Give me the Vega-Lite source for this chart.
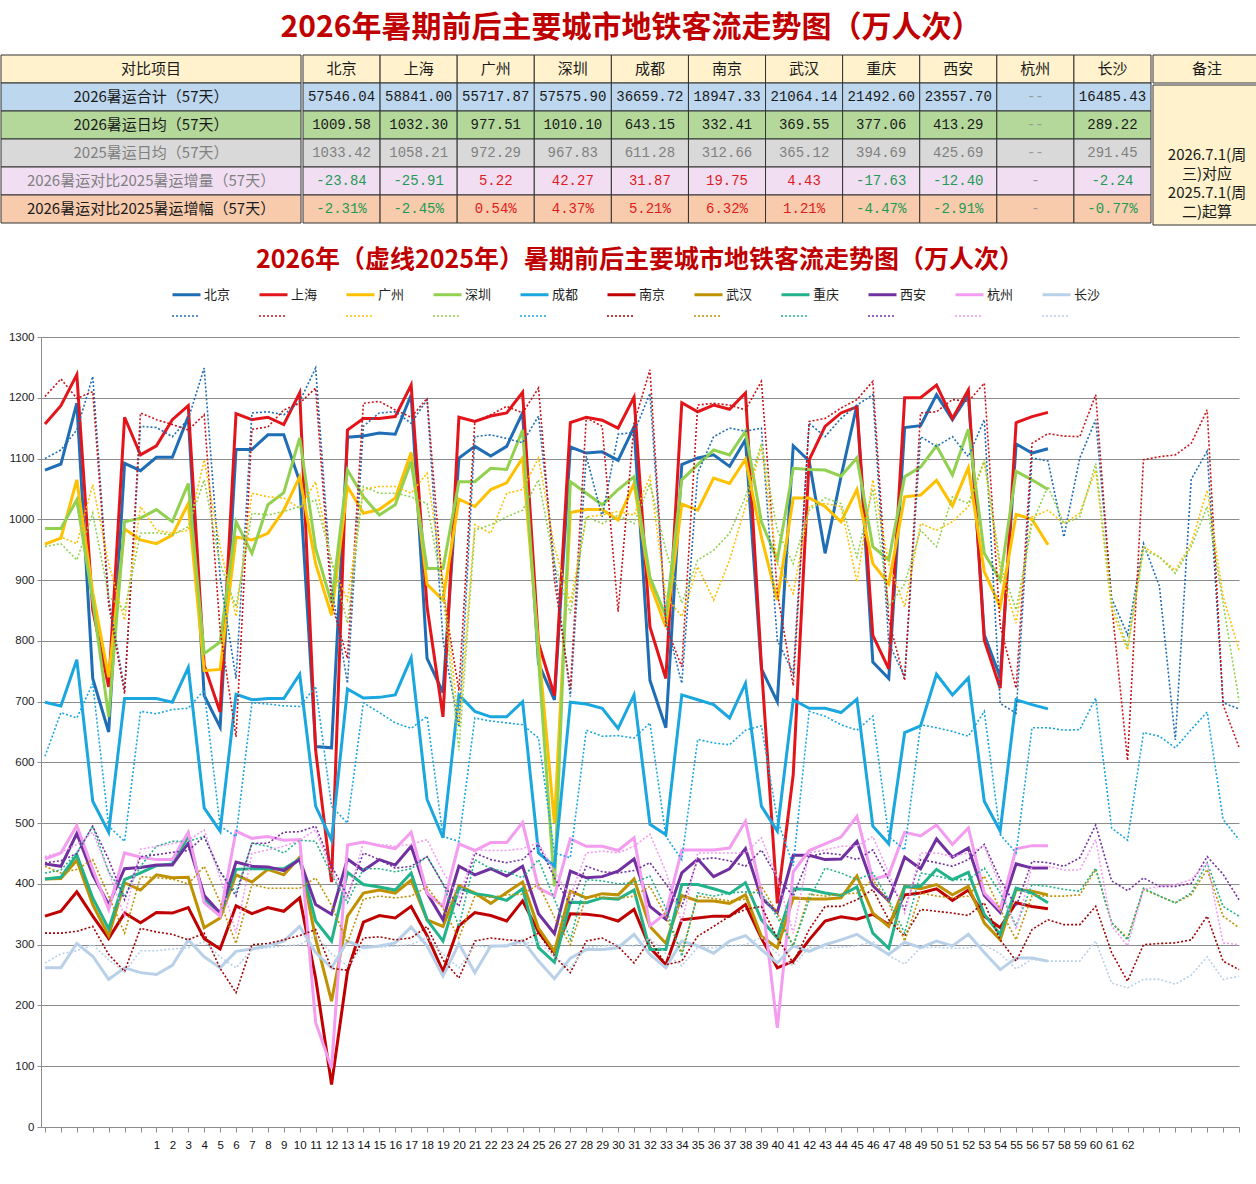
{
  "$schema": "https://vega.github.io/schema/vega-lite/v6.json",
  "background": "white",
  "padding": {"left": 0, "right": 0, "top": 12, "bottom": 0},
  "title": {"text": "2026年暑期前后主要城市地铁客流走势图（万人次）", "fontSize": 30, "fontWeight": "bold", "color": "#C00000", "anchor": "middle", "offset": 12, "font": "Noto Sans CJK SC"},
  "datasets": {
    "bj26": [{"d":-6,"v":1081},{"d":-5,"v":1091},{"d":-4,"v":1191},{"d":-3,"v":738},{"d":-2,"v":650},{"d":-1,"v":1092},{"d":0,"v":1080},{"d":1,"v":1102},{"d":2,"v":1102},{"d":3,"v":1169},{"d":4,"v":710},{"d":5,"v":658},{"d":6,"v":1115},{"d":7,"v":1115},{"d":8,"v":1139},{"d":9,"v":1139},{"d":10,"v":1062},{"d":11,"v":626},{"d":12,"v":624},{"d":13,"v":1135},{"d":14,"v":1137},{"d":15,"v":1142},{"d":16,"v":1140},{"d":17,"v":1205},{"d":18,"v":771},{"d":19,"v":715},{"d":20,"v":1101},{"d":21,"v":1120},{"d":22,"v":1104},{"d":23,"v":1120},{"d":24,"v":1175},{"d":25,"v":763},{"d":26,"v":703},{"d":27,"v":1119},{"d":28,"v":1109},{"d":29,"v":1111},{"d":30,"v":1097},{"d":31,"v":1152},{"d":32,"v":735},{"d":33,"v":657},{"d":34,"v":1090},{"d":35,"v":1101},{"d":36,"v":1106},{"d":37,"v":1087},{"d":38,"v":1131},{"d":39,"v":754},{"d":40,"v":700},{"d":41,"v":1121},{"d":42,"v":1096},{"d":43,"v":944},{"d":44,"v":1070},{"d":45,"v":1188},{"d":46,"v":765},{"d":47,"v":738},{"d":48,"v":1151},{"d":49,"v":1154},{"d":50,"v":1205},{"d":51,"v":1164},{"d":52,"v":1205},{"d":53,"v":810},{"d":54,"v":740},{"d":55,"v":1124},{"d":56,"v":1109},{"d":57,"v":1116}],
    "sh26": [{"d":-6,"v":1157},{"d":-5,"v":1187},{"d":-4,"v":1238},{"d":-3,"v":851},{"d":-2,"v":724},{"d":-1,"v":1168},{"d":0,"v":1106},{"d":1,"v":1121},{"d":2,"v":1164},{"d":3,"v":1187},{"d":4,"v":760},{"d":5,"v":683},{"d":6,"v":1174},{"d":7,"v":1164},{"d":8,"v":1168},{"d":9,"v":1156},{"d":10,"v":1208},{"d":11,"v":620},{"d":12,"v":403},{"d":13,"v":1147},{"d":14,"v":1166},{"d":15,"v":1166},{"d":16,"v":1169},{"d":17,"v":1221},{"d":18,"v":856},{"d":19,"v":675},{"d":20,"v":1168},{"d":21,"v":1161},{"d":22,"v":1170},{"d":23,"v":1175},{"d":24,"v":1209},{"d":25,"v":796},{"d":26,"v":710},{"d":27,"v":1159},{"d":28,"v":1168},{"d":29,"v":1163},{"d":30,"v":1150},{"d":31,"v":1201},{"d":32,"v":823},{"d":33,"v":738},{"d":34,"v":1192},{"d":35,"v":1177},{"d":36,"v":1188},{"d":37,"v":1181},{"d":38,"v":1208},{"d":39,"v":760},{"d":40,"v":368},{"d":41,"v":580},{"d":42,"v":1098},{"d":43,"v":1153},{"d":44,"v":1175},{"d":45,"v":1185},{"d":46,"v":809},{"d":47,"v":754},{"d":48,"v":1200},{"d":49,"v":1200},{"d":50,"v":1221},{"d":51,"v":1166},{"d":52,"v":1213},{"d":53,"v":801},{"d":54,"v":722},{"d":55,"v":1159},{"d":56,"v":1169},{"d":57,"v":1176}],
    "gz26": [{"d":-6,"v":959},{"d":-5,"v":969},{"d":-4,"v":1065},{"d":-3,"v":880},{"d":-2,"v":740},{"d":-1,"v":984},{"d":0,"v":966},{"d":1,"v":960},{"d":2,"v":974},{"d":3,"v":1026},{"d":4,"v":751},{"d":5,"v":753},{"d":6,"v":971},{"d":7,"v":966},{"d":8,"v":977},{"d":9,"v":1015},{"d":10,"v":1070},{"d":11,"v":927},{"d":12,"v":842},{"d":13,"v":1054},{"d":14,"v":1010},{"d":15,"v":1016},{"d":16,"v":1035},{"d":17,"v":1110},{"d":18,"v":893},{"d":19,"v":867},{"d":20,"v":1033},{"d":21,"v":1021},{"d":22,"v":1049},{"d":23,"v":1060},{"d":24,"v":1101},{"d":25,"v":790},{"d":26,"v":500},{"d":27,"v":1011},{"d":28,"v":1016},{"d":29,"v":1016},{"d":30,"v":999},{"d":31,"v":1059},{"d":32,"v":894},{"d":33,"v":823},{"d":34,"v":1025},{"d":35,"v":1015},{"d":36,"v":1068},{"d":37,"v":1059},{"d":38,"v":1099},{"d":39,"v":971},{"d":40,"v":867},{"d":41,"v":1035},{"d":42,"v":1035},{"d":43,"v":1021},{"d":44,"v":996},{"d":45,"v":1049},{"d":46,"v":927},{"d":47,"v":894},{"d":48,"v":1037},{"d":49,"v":1040},{"d":50,"v":1064},{"d":51,"v":1022},{"d":52,"v":1085},{"d":53,"v":914},{"d":54,"v":856},{"d":55,"v":1008},{"d":56,"v":1000},{"d":57,"v":958}],
    "sz26": [{"d":-6,"v":985},{"d":-5,"v":985},{"d":-4,"v":1032},{"d":-3,"v":867},{"d":-2,"v":675},{"d":-1,"v":996},{"d":0,"v":1002},{"d":1,"v":1016},{"d":2,"v":996},{"d":3,"v":1059},{"d":4,"v":779},{"d":5,"v":798},{"d":6,"v":996},{"d":7,"v":944},{"d":8,"v":1024},{"d":9,"v":1044},{"d":10,"v":1134},{"d":11,"v":952},{"d":12,"v":862},{"d":13,"v":1081},{"d":14,"v":1037},{"d":15,"v":1007},{"d":16,"v":1024},{"d":17,"v":1095},{"d":18,"v":919},{"d":19,"v":919},{"d":20,"v":1062},{"d":21,"v":1062},{"d":22,"v":1084},{"d":23,"v":1082},{"d":24,"v":1147},{"d":25,"v":770},{"d":26,"v":396},{"d":27,"v":1062},{"d":28,"v":1043},{"d":29,"v":1024},{"d":30,"v":1049},{"d":31,"v":1070},{"d":32,"v":905},{"d":33,"v":840},{"d":34,"v":1065},{"d":35,"v":1090},{"d":36,"v":1114},{"d":37,"v":1106},{"d":38,"v":1145},{"d":39,"v":996},{"d":40,"v":933},{"d":41,"v":1084},{"d":42,"v":1082},{"d":43,"v":1081},{"d":44,"v":1071},{"d":45,"v":1101},{"d":46,"v":955},{"d":47,"v":933},{"d":48,"v":1070},{"d":49,"v":1086},{"d":50,"v":1121},{"d":51,"v":1073},{"d":52,"v":1148},{"d":53,"v":944},{"d":54,"v":900},{"d":55,"v":1079},{"d":56,"v":1065},{"d":57,"v":1049}],
    "cd26": [{"d":-6,"v":699},{"d":-5,"v":693},{"d":-4,"v":769},{"d":-3,"v":536},{"d":-2,"v":485},{"d":-1,"v":705},{"d":0,"v":705},{"d":1,"v":705},{"d":2,"v":699},{"d":3,"v":756},{"d":4,"v":525},{"d":5,"v":487},{"d":6,"v":712},{"d":7,"v":703},{"d":8,"v":705},{"d":9,"v":705},{"d":10,"v":745},{"d":11,"v":528},{"d":12,"v":472},{"d":13,"v":721},{"d":14,"v":706},{"d":15,"v":707},{"d":16,"v":711},{"d":17,"v":772},{"d":18,"v":539},{"d":19,"v":476},{"d":20,"v":711},{"d":21,"v":684},{"d":22,"v":675},{"d":23,"v":675},{"d":24,"v":700},{"d":25,"v":451},{"d":26,"v":429},{"d":27,"v":699},{"d":28,"v":696},{"d":29,"v":689},{"d":30,"v":656},{"d":31,"v":711},{"d":32,"v":498},{"d":33,"v":481},{"d":34,"v":711},{"d":35,"v":703},{"d":36,"v":695},{"d":37,"v":673},{"d":38,"v":730},{"d":39,"v":528},{"d":40,"v":487},{"d":41,"v":703},{"d":42,"v":689},{"d":43,"v":689},{"d":44,"v":682},{"d":45,"v":704},{"d":46,"v":495},{"d":47,"v":466},{"d":48,"v":649},{"d":49,"v":660},{"d":50,"v":745},{"d":51,"v":711},{"d":52,"v":739},{"d":53,"v":536},{"d":54,"v":487},{"d":55,"v":703},{"d":56,"v":695},{"d":57,"v":688}],
    "nj26": [{"d":-6,"v":347},{"d":-5,"v":355},{"d":-4,"v":387},{"d":-3,"v":347},{"d":-2,"v":310},{"d":-1,"v":352},{"d":0,"v":336},{"d":1,"v":353},{"d":2,"v":352},{"d":3,"v":361},{"d":4,"v":310},{"d":5,"v":293},{"d":6,"v":364},{"d":7,"v":351},{"d":8,"v":361},{"d":9,"v":355},{"d":10,"v":377},{"d":11,"v":245},{"d":12,"v":70},{"d":13,"v":256},{"d":14,"v":337},{"d":15,"v":348},{"d":16,"v":344},{"d":17,"v":363},{"d":18,"v":315},{"d":19,"v":256},{"d":20,"v":331},{"d":21,"v":353},{"d":22,"v":348},{"d":23,"v":339},{"d":24,"v":372},{"d":25,"v":321},{"d":26,"v":287},{"d":27,"v":351},{"d":28,"v":350},{"d":29,"v":347},{"d":30,"v":339},{"d":31,"v":358},{"d":32,"v":295},{"d":33,"v":267},{"d":34,"v":341},{"d":35,"v":344},{"d":36,"v":347},{"d":37,"v":347},{"d":38,"v":366},{"d":39,"v":311},{"d":40,"v":262},{"d":41,"v":273},{"d":42,"v":308},{"d":43,"v":339},{"d":44,"v":346},{"d":45,"v":342},{"d":46,"v":350},{"d":47,"v":333},{"d":48,"v":382},{"d":49,"v":385},{"d":50,"v":392},{"d":51,"v":373},{"d":52,"v":390},{"d":53,"v":347},{"d":54,"v":328},{"d":55,"v":369},{"d":56,"v":363},{"d":57,"v":359}],
    "wh26": [{"d":-6,"v":408},{"d":-5,"v":409},{"d":-4,"v":439},{"d":-3,"v":366},{"d":-2,"v":315},{"d":-1,"v":402},{"d":0,"v":390},{"d":1,"v":415},{"d":2,"v":410},{"d":3,"v":411},{"d":4,"v":328},{"d":5,"v":344},{"d":6,"v":415},{"d":7,"v":403},{"d":8,"v":424},{"d":9,"v":415},{"d":10,"v":444},{"d":11,"v":310},{"d":12,"v":207},{"d":13,"v":347},{"d":14,"v":385},{"d":15,"v":390},{"d":16,"v":385},{"d":17,"v":406},{"d":18,"v":341},{"d":19,"v":330},{"d":20,"v":397},{"d":21,"v":385},{"d":22,"v":368},{"d":23,"v":386},{"d":24,"v":403},{"d":25,"v":327},{"d":26,"v":289},{"d":27,"v":388},{"d":28,"v":377},{"d":29,"v":384},{"d":30,"v":382},{"d":31,"v":408},{"d":32,"v":330},{"d":33,"v":302},{"d":34,"v":381},{"d":35,"v":372},{"d":36,"v":372},{"d":37,"v":368},{"d":38,"v":382},{"d":39,"v":314},{"d":40,"v":295},{"d":41,"v":377},{"d":42,"v":375},{"d":43,"v":375},{"d":44,"v":377},{"d":45,"v":413},{"d":46,"v":352},{"d":47,"v":330},{"d":48,"v":396},{"d":49,"v":392},{"d":50,"v":399},{"d":51,"v":382},{"d":52,"v":396},{"d":53,"v":336},{"d":54,"v":308},{"d":55,"v":391},{"d":56,"v":388},{"d":57,"v":382}],
    "cq26": [{"d":-6,"v":408},{"d":-5,"v":411},{"d":-4,"v":448},{"d":-3,"v":377},{"d":-2,"v":326},{"d":-1,"v":407},{"d":0,"v":418},{"d":1,"v":430},{"d":2,"v":433},{"d":3,"v":478},{"d":4,"v":374},{"d":5,"v":350},{"d":6,"v":424},{"d":7,"v":425},{"d":8,"v":425},{"d":9,"v":425},{"d":10,"v":441},{"d":11,"v":339},{"d":12,"v":306},{"d":13,"v":419},{"d":14,"v":399},{"d":15,"v":395},{"d":16,"v":390},{"d":17,"v":418},{"d":18,"v":341},{"d":19,"v":306},{"d":20,"v":393},{"d":21,"v":384},{"d":22,"v":380},{"d":23,"v":373},{"d":24,"v":392},{"d":25,"v":295},{"d":26,"v":271},{"d":27,"v":370},{"d":28,"v":369},{"d":29,"v":377},{"d":30,"v":375},{"d":31,"v":390},{"d":32,"v":292},{"d":33,"v":292},{"d":34,"v":399},{"d":35,"v":399},{"d":36,"v":392},{"d":37,"v":384},{"d":38,"v":402},{"d":39,"v":341},{"d":40,"v":311},{"d":41,"v":392},{"d":42,"v":391},{"d":43,"v":385},{"d":44,"v":381},{"d":45,"v":395},{"d":46,"v":319},{"d":47,"v":294},{"d":48,"v":395},{"d":49,"v":396},{"d":50,"v":424},{"d":51,"v":407},{"d":52,"v":419},{"d":53,"v":350},{"d":54,"v":317},{"d":55,"v":393},{"d":56,"v":385},{"d":57,"v":369}],
    "xa26": [{"d":-6,"v":433},{"d":-5,"v":429},{"d":-4,"v":483},{"d":-3,"v":415},{"d":-2,"v":366},{"d":-1,"v":425},{"d":0,"v":427},{"d":1,"v":431},{"d":2,"v":431},{"d":3,"v":467},{"d":4,"v":381},{"d":5,"v":352},{"d":6,"v":436},{"d":7,"v":429},{"d":8,"v":428},{"d":9,"v":422},{"d":10,"v":440},{"d":11,"v":366},{"d":12,"v":350},{"d":13,"v":441},{"d":14,"v":422},{"d":15,"v":440},{"d":16,"v":431},{"d":17,"v":462},{"d":18,"v":385},{"d":19,"v":341},{"d":20,"v":429},{"d":21,"v":415},{"d":22,"v":425},{"d":23,"v":413},{"d":24,"v":429},{"d":25,"v":351},{"d":26,"v":318},{"d":27,"v":421},{"d":28,"v":410},{"d":29,"v":412},{"d":30,"v":421},{"d":31,"v":441},{"d":32,"v":363},{"d":33,"v":342},{"d":34,"v":418},{"d":35,"v":441},{"d":36,"v":412},{"d":37,"v":425},{"d":38,"v":458},{"d":39,"v":377},{"d":40,"v":353},{"d":41,"v":447},{"d":42,"v":447},{"d":43,"v":440},{"d":44,"v":441},{"d":45,"v":470},{"d":46,"v":397},{"d":47,"v":372},{"d":48,"v":444},{"d":49,"v":425},{"d":50,"v":474},{"d":51,"v":444},{"d":52,"v":459},{"d":53,"v":381},{"d":54,"v":353},{"d":55,"v":433},{"d":56,"v":426},{"d":57,"v":426}],
    "hz26": [{"d":-6,"v":441},{"d":-5,"v":451},{"d":-4,"v":496},{"d":-3,"v":424},{"d":-2,"v":358},{"d":-1,"v":451},{"d":0,"v":444},{"d":1,"v":440},{"d":2,"v":440},{"d":3,"v":485},{"d":4,"v":369},{"d":5,"v":347},{"d":6,"v":487},{"d":7,"v":475},{"d":8,"v":478},{"d":9,"v":472},{"d":10,"v":473},{"d":11,"v":172},{"d":12,"v":97},{"d":13,"v":464},{"d":14,"v":469},{"d":15,"v":463},{"d":16,"v":458},{"d":17,"v":485},{"d":18,"v":385},{"d":19,"v":363},{"d":20,"v":466},{"d":21,"v":455},{"d":22,"v":468},{"d":23,"v":468},{"d":24,"v":501},{"d":25,"v":393},{"d":26,"v":380},{"d":27,"v":474},{"d":28,"v":462},{"d":29,"v":462},{"d":30,"v":455},{"d":31,"v":476},{"d":32,"v":331},{"d":33,"v":352},{"d":34,"v":456},{"d":35,"v":456},{"d":36,"v":456},{"d":37,"v":459},{"d":38,"v":503},{"d":39,"v":385},{"d":40,"v":163},{"d":41,"v":420},{"d":42,"v":455},{"d":43,"v":466},{"d":44,"v":477},{"d":45,"v":511},{"d":46,"v":407},{"d":47,"v":415},{"d":48,"v":485},{"d":49,"v":479},{"d":50,"v":497},{"d":51,"v":465},{"d":52,"v":492},{"d":53,"v":385},{"d":54,"v":358},{"d":55,"v":458},{"d":56,"v":463},{"d":57,"v":463}],
    "cs26": [{"d":-6,"v":262},{"d":-5,"v":262},{"d":-4,"v":302},{"d":-3,"v":281},{"d":-2,"v":243},{"d":-1,"v":262},{"d":0,"v":254},{"d":1,"v":251},{"d":2,"v":266},{"d":3,"v":308},{"d":4,"v":280},{"d":5,"v":262},{"d":6,"v":289},{"d":7,"v":293},{"d":8,"v":298},{"d":9,"v":306},{"d":10,"v":330},{"d":11,"v":287},{"d":12,"v":262},{"d":13,"v":306},{"d":14,"v":295},{"d":15,"v":298},{"d":16,"v":303},{"d":17,"v":329},{"d":18,"v":298},{"d":19,"v":248},{"d":20,"v":302},{"d":21,"v":254},{"d":22,"v":298},{"d":23,"v":298},{"d":24,"v":307},{"d":25,"v":273},{"d":26,"v":244},{"d":27,"v":278},{"d":28,"v":292},{"d":29,"v":292},{"d":30,"v":295},{"d":31,"v":317},{"d":32,"v":284},{"d":33,"v":262},{"d":34,"v":306},{"d":35,"v":298},{"d":36,"v":286},{"d":37,"v":306},{"d":38,"v":315},{"d":39,"v":292},{"d":40,"v":270},{"d":41,"v":298},{"d":42,"v":289},{"d":43,"v":300},{"d":44,"v":308},{"d":45,"v":317},{"d":46,"v":300},{"d":47,"v":284},{"d":48,"v":304},{"d":49,"v":295},{"d":50,"v":306},{"d":51,"v":298},{"d":52,"v":317},{"d":53,"v":287},{"d":54,"v":259},{"d":55,"v":278},{"d":56,"v":278},{"d":57,"v":273}],
    "bj25": [{"d":-6,"v":1100},{"d":-5,"v":1114},{"d":-4,"v":1147},{"d":-3,"v":1235},{"d":-2,"v":870},{"d":-1,"v":720},{"d":0,"v":1153},{"d":1,"v":1151},{"d":2,"v":1136},{"d":3,"v":1165},{"d":4,"v":1249},{"d":5,"v":905},{"d":6,"v":738},{"d":7,"v":1175},{"d":8,"v":1177},{"d":9,"v":1172},{"d":10,"v":1194},{"d":11,"v":1249},{"d":12,"v":889},{"d":13,"v":730},{"d":14,"v":1153},{"d":15,"v":1175},{"d":16,"v":1177},{"d":17,"v":1158},{"d":18,"v":1197},{"d":19,"v":801},{"d":20,"v":658},{"d":21,"v":1136},{"d":22,"v":1139},{"d":23,"v":1133},{"d":24,"v":1126},{"d":25,"v":1170},{"d":26,"v":927},{"d":27,"v":708},{"d":28,"v":1104},{"d":29,"v":1004},{"d":30,"v":1140},{"d":31,"v":1143},{"d":32,"v":1207},{"d":33,"v":833},{"d":34,"v":730},{"d":35,"v":1076},{"d":36,"v":1136},{"d":37,"v":1150},{"d":38,"v":1145},{"d":39,"v":1150},{"d":40,"v":801},{"d":41,"v":747},{"d":42,"v":1158},{"d":43,"v":1136},{"d":44,"v":1166},{"d":45,"v":1188},{"d":46,"v":1205},{"d":47,"v":796},{"d":48,"v":741},{"d":49,"v":1136},{"d":50,"v":1120},{"d":51,"v":1136},{"d":52,"v":1103},{"d":53,"v":1164},{"d":54,"v":697},{"d":55,"v":681},{"d":56,"v":1101},{"d":57,"v":1096},{"d":58,"v":971},{"d":59,"v":1101},{"d":60,"v":1164},{"d":61,"v":870},{"d":62,"v":810},{"d":63,"v":960},{"d":64,"v":890},{"d":65,"v":637},{"d":66,"v":1066},{"d":67,"v":1112},{"d":68,"v":698},{"d":69,"v":688}],
    "sh25": [{"d":-6,"v":1202},{"d":-5,"v":1231},{"d":-4,"v":1199},{"d":-3,"v":1210},{"d":-2,"v":860},{"d":-1,"v":713},{"d":0,"v":1175},{"d":1,"v":1164},{"d":2,"v":1156},{"d":3,"v":1147},{"d":4,"v":1172},{"d":5,"v":818},{"d":6,"v":642},{"d":7,"v":1148},{"d":8,"v":1152},{"d":9,"v":1180},{"d":10,"v":1191},{"d":11,"v":1216},{"d":12,"v":862},{"d":13,"v":771},{"d":14,"v":1191},{"d":15,"v":1194},{"d":16,"v":1180},{"d":17,"v":1168},{"d":18,"v":1199},{"d":19,"v":880},{"d":20,"v":718},{"d":21,"v":1161},{"d":22,"v":1172},{"d":23,"v":1186},{"d":24,"v":1175},{"d":25,"v":1216},{"d":26,"v":900},{"d":27,"v":721},{"d":28,"v":1167},{"d":29,"v":1153},{"d":30,"v":848},{"d":31,"v":1158},{"d":32,"v":1246},{"d":33,"v":825},{"d":34,"v":757},{"d":35,"v":1188},{"d":36,"v":1191},{"d":37,"v":1188},{"d":38,"v":1180},{"d":39,"v":1227},{"d":40,"v":880},{"d":41,"v":726},{"d":42,"v":1161},{"d":43,"v":1166},{"d":44,"v":1183},{"d":45,"v":1197},{"d":46,"v":1227},{"d":47,"v":834},{"d":48,"v":735},{"d":49,"v":1175},{"d":50,"v":1177},{"d":51,"v":1197},{"d":52,"v":1194},{"d":53,"v":1224},{"d":54,"v":825},{"d":55,"v":722},{"d":56,"v":1125},{"d":57,"v":1141},{"d":58,"v":1137},{"d":59,"v":1136},{"d":60,"v":1205},{"d":61,"v":860},{"d":62,"v":603},{"d":63,"v":1098},{"d":64,"v":1103},{"d":65,"v":1106},{"d":66,"v":1125},{"d":67,"v":1180},{"d":68,"v":695},{"d":69,"v":625}],
    "gz25": [{"d":-6,"v":958},{"d":-5,"v":971},{"d":-4,"v":960},{"d":-3,"v":1057},{"d":-2,"v":927},{"d":-1,"v":834},{"d":0,"v":1021},{"d":1,"v":982},{"d":2,"v":977},{"d":3,"v":982},{"d":4,"v":1098},{"d":5,"v":955},{"d":6,"v":840},{"d":7,"v":1043},{"d":8,"v":1037},{"d":9,"v":1035},{"d":10,"v":1018},{"d":11,"v":1062},{"d":12,"v":927},{"d":13,"v":867},{"d":14,"v":1049},{"d":15,"v":1054},{"d":16,"v":1054},{"d":17,"v":1043},{"d":18,"v":1076},{"d":19,"v":900},{"d":20,"v":660},{"d":21,"v":991},{"d":22,"v":977},{"d":23,"v":1043},{"d":24,"v":1049},{"d":25,"v":1101},{"d":26,"v":955},{"d":27,"v":862},{"d":28,"v":1004},{"d":29,"v":1007},{"d":30,"v":1013},{"d":31,"v":1007},{"d":32,"v":1070},{"d":33,"v":873},{"d":34,"v":840},{"d":35,"v":922},{"d":36,"v":867},{"d":37,"v":933},{"d":38,"v":1021},{"d":39,"v":1120},{"d":40,"v":927},{"d":41,"v":878},{"d":42,"v":1021},{"d":43,"v":1026},{"d":44,"v":1021},{"d":45,"v":897},{"d":46,"v":1065},{"d":47,"v":927},{"d":48,"v":856},{"d":49,"v":993},{"d":50,"v":982},{"d":51,"v":996},{"d":52,"v":1021},{"d":53,"v":1095},{"d":54,"v":916},{"d":55,"v":829},{"d":56,"v":1004},{"d":57,"v":1015},{"d":58,"v":993},{"d":59,"v":1010},{"d":60,"v":1081},{"d":61,"v":851},{"d":62,"v":785},{"d":63,"v":955},{"d":64,"v":938},{"d":65,"v":916},{"d":66,"v":960},{"d":67,"v":1048},{"d":68,"v":873},{"d":69,"v":785}],
    "sz25": [{"d":-6,"v":955},{"d":-5,"v":960},{"d":-4,"v":933},{"d":-3,"v":1010},{"d":-2,"v":873},{"d":-1,"v":851},{"d":0,"v":977},{"d":1,"v":978},{"d":2,"v":974},{"d":3,"v":988},{"d":4,"v":1065},{"d":5,"v":927},{"d":6,"v":856},{"d":7,"v":1010},{"d":8,"v":1007},{"d":9,"v":1013},{"d":10,"v":1021},{"d":11,"v":1032},{"d":12,"v":933},{"d":13,"v":829},{"d":14,"v":1054},{"d":15,"v":1043},{"d":16,"v":1043},{"d":17,"v":1037},{"d":18,"v":1026},{"d":19,"v":880},{"d":20,"v":620},{"d":21,"v":982},{"d":22,"v":991},{"d":23,"v":1004},{"d":24,"v":1015},{"d":25,"v":1065},{"d":26,"v":927},{"d":27,"v":845},{"d":28,"v":1004},{"d":29,"v":993},{"d":30,"v":1007},{"d":31,"v":993},{"d":32,"v":1059},{"d":33,"v":949},{"d":34,"v":862},{"d":35,"v":933},{"d":36,"v":949},{"d":37,"v":977},{"d":38,"v":1037},{"d":39,"v":1125},{"d":40,"v":982},{"d":41,"v":927},{"d":42,"v":1015},{"d":43,"v":1035},{"d":44,"v":1026},{"d":45,"v":938},{"d":46,"v":1050},{"d":47,"v":856},{"d":48,"v":894},{"d":49,"v":982},{"d":50,"v":955},{"d":51,"v":1037},{"d":52,"v":1026},{"d":53,"v":1098},{"d":54,"v":927},{"d":55,"v":851},{"d":56,"v":993},{"d":57,"v":1054},{"d":58,"v":993},{"d":59,"v":1004},{"d":60,"v":1092},{"d":61,"v":862},{"d":62,"v":790},{"d":63,"v":949},{"d":64,"v":938},{"d":65,"v":911},{"d":66,"v":955},{"d":67,"v":1021},{"d":68,"v":862},{"d":69,"v":702}],
    "cd25": [{"d":-6,"v":610},{"d":-5,"v":682},{"d":-4,"v":673},{"d":-3,"v":730},{"d":-2,"v":495},{"d":-1,"v":470},{"d":0,"v":684},{"d":1,"v":680},{"d":2,"v":687},{"d":3,"v":689},{"d":4,"v":719},{"d":5,"v":495},{"d":6,"v":478},{"d":7,"v":698},{"d":8,"v":696},{"d":9,"v":693},{"d":10,"v":692},{"d":11,"v":725},{"d":12,"v":528},{"d":13,"v":500},{"d":14,"v":698},{"d":15,"v":682},{"d":16,"v":665},{"d":17,"v":656},{"d":18,"v":676},{"d":19,"v":478},{"d":20,"v":470},{"d":21,"v":673},{"d":22,"v":668},{"d":23,"v":665},{"d":24,"v":662},{"d":25,"v":640},{"d":26,"v":451},{"d":27,"v":443},{"d":28,"v":653},{"d":29,"v":643},{"d":30,"v":644},{"d":31,"v":640},{"d":32,"v":665},{"d":33,"v":478},{"d":34,"v":440},{"d":35,"v":638},{"d":36,"v":632},{"d":37,"v":629},{"d":38,"v":653},{"d":39,"v":660},{"d":40,"v":506},{"d":41,"v":430},{"d":42,"v":684},{"d":43,"v":676},{"d":44,"v":662},{"d":45,"v":653},{"d":46,"v":676},{"d":47,"v":478},{"d":48,"v":456},{"d":49,"v":662},{"d":50,"v":657},{"d":51,"v":651},{"d":52,"v":643},{"d":53,"v":684},{"d":54,"v":481},{"d":55,"v":451},{"d":56,"v":657},{"d":57,"v":657},{"d":58,"v":653},{"d":59,"v":654},{"d":60,"v":706},{"d":61,"v":492},{"d":62,"v":472},{"d":63,"v":649},{"d":64,"v":643},{"d":65,"v":624},{"d":66,"v":654},{"d":67,"v":683},{"d":68,"v":506},{"d":69,"v":473}],
    "nj25": [{"d":-6,"v":319},{"d":-5,"v":319},{"d":-4,"v":322},{"d":-3,"v":330},{"d":-2,"v":284},{"d":-1,"v":256},{"d":0,"v":327},{"d":1,"v":321},{"d":2,"v":317},{"d":3,"v":308},{"d":4,"v":319},{"d":5,"v":261},{"d":6,"v":221},{"d":7,"v":300},{"d":8,"v":302},{"d":9,"v":308},{"d":10,"v":315},{"d":11,"v":325},{"d":12,"v":261},{"d":13,"v":258},{"d":14,"v":311},{"d":15,"v":313},{"d":16,"v":308},{"d":17,"v":311},{"d":18,"v":330},{"d":19,"v":275},{"d":20,"v":245},{"d":21,"v":306},{"d":22,"v":311},{"d":23,"v":308},{"d":24,"v":306},{"d":25,"v":319},{"d":26,"v":281},{"d":27,"v":254},{"d":28,"v":306},{"d":29,"v":311},{"d":30,"v":297},{"d":31,"v":270},{"d":32,"v":308},{"d":33,"v":267},{"d":34,"v":273},{"d":35,"v":314},{"d":36,"v":330},{"d":37,"v":347},{"d":38,"v":358},{"d":39,"v":363},{"d":40,"v":311},{"d":41,"v":270},{"d":42,"v":325},{"d":43,"v":363},{"d":44,"v":363},{"d":45,"v":374},{"d":46,"v":391},{"d":47,"v":341},{"d":48,"v":314},{"d":49,"v":358},{"d":50,"v":355},{"d":51,"v":352},{"d":52,"v":348},{"d":53,"v":369},{"d":54,"v":308},{"d":55,"v":273},{"d":56,"v":325},{"d":57,"v":341},{"d":58,"v":333},{"d":59,"v":333},{"d":60,"v":363},{"d":61,"v":287},{"d":62,"v":240},{"d":63,"v":300},{"d":64,"v":302},{"d":65,"v":303},{"d":66,"v":308},{"d":67,"v":347},{"d":68,"v":273},{"d":69,"v":259}],
    "wh25": [{"d":-6,"v":429},{"d":-5,"v":418},{"d":-4,"v":424},{"d":-3,"v":440},{"d":-2,"v":380},{"d":-1,"v":319},{"d":0,"v":412},{"d":1,"v":410},{"d":2,"v":408},{"d":3,"v":400},{"d":4,"v":429},{"d":5,"v":370},{"d":6,"v":302},{"d":7,"v":399},{"d":8,"v":393},{"d":9,"v":393},{"d":10,"v":393},{"d":11,"v":410},{"d":12,"v":365},{"d":13,"v":303},{"d":14,"v":375},{"d":15,"v":380},{"d":16,"v":377},{"d":17,"v":380},{"d":18,"v":395},{"d":19,"v":360},{"d":20,"v":311},{"d":21,"v":380},{"d":22,"v":378},{"d":23,"v":382},{"d":24,"v":383},{"d":25,"v":399},{"d":26,"v":345},{"d":27,"v":300},{"d":28,"v":379},{"d":29,"v":378},{"d":30,"v":376},{"d":31,"v":380},{"d":32,"v":396},{"d":33,"v":347},{"d":34,"v":287},{"d":35,"v":380},{"d":36,"v":376},{"d":37,"v":372},{"d":38,"v":375},{"d":39,"v":396},{"d":40,"v":352},{"d":41,"v":298},{"d":42,"v":383},{"d":43,"v":380},{"d":44,"v":383},{"d":45,"v":385},{"d":46,"v":407},{"d":47,"v":369},{"d":48,"v":306},{"d":49,"v":385},{"d":50,"v":380},{"d":51,"v":377},{"d":52,"v":380},{"d":53,"v":413},{"d":54,"v":358},{"d":55,"v":308},{"d":56,"v":381},{"d":57,"v":380},{"d":58,"v":380},{"d":59,"v":382},{"d":60,"v":424},{"d":61,"v":336},{"d":62,"v":311},{"d":63,"v":391},{"d":64,"v":380},{"d":65,"v":369},{"d":66,"v":382},{"d":67,"v":424},{"d":68,"v":347},{"d":69,"v":328}],
    "cq25": [{"d":-6,"v":418},{"d":-5,"v":423},{"d":-4,"v":451},{"d":-3,"v":495},{"d":-2,"v":420},{"d":-1,"v":380},{"d":0,"v":429},{"d":1,"v":462},{"d":2,"v":470},{"d":3,"v":470},{"d":4,"v":478},{"d":5,"v":420},{"d":6,"v":386},{"d":7,"v":467},{"d":8,"v":462},{"d":9,"v":451},{"d":10,"v":472},{"d":11,"v":470},{"d":12,"v":415},{"d":13,"v":369},{"d":14,"v":425},{"d":15,"v":425},{"d":16,"v":420},{"d":17,"v":425},{"d":18,"v":445},{"d":19,"v":400},{"d":20,"v":330},{"d":21,"v":440},{"d":22,"v":425},{"d":23,"v":420},{"d":24,"v":410},{"d":25,"v":440},{"d":26,"v":375},{"d":27,"v":309},{"d":28,"v":407},{"d":29,"v":405},{"d":30,"v":400},{"d":31,"v":402},{"d":32,"v":413},{"d":33,"v":360},{"d":34,"v":281},{"d":35,"v":385},{"d":36,"v":380},{"d":37,"v":385},{"d":38,"v":387},{"d":39,"v":385},{"d":40,"v":345},{"d":41,"v":298},{"d":42,"v":374},{"d":43,"v":426},{"d":44,"v":418},{"d":45,"v":407},{"d":46,"v":418},{"d":47,"v":374},{"d":48,"v":319},{"d":49,"v":418},{"d":50,"v":413},{"d":51,"v":407},{"d":52,"v":407},{"d":53,"v":426},{"d":54,"v":385},{"d":55,"v":331},{"d":56,"v":399},{"d":57,"v":396},{"d":58,"v":391},{"d":59,"v":388},{"d":60,"v":426},{"d":61,"v":336},{"d":62,"v":308},{"d":63,"v":393},{"d":64,"v":380},{"d":65,"v":369},{"d":66,"v":385},{"d":67,"v":435},{"d":68,"v":363},{"d":69,"v":347}],
    "xa25": [{"d":-6,"v":435},{"d":-5,"v":438},{"d":-4,"v":450},{"d":-3,"v":495},{"d":-2,"v":440},{"d":-1,"v":374},{"d":0,"v":445},{"d":1,"v":448},{"d":2,"v":452},{"d":3,"v":455},{"d":4,"v":478},{"d":5,"v":420},{"d":6,"v":380},{"d":7,"v":467},{"d":8,"v":467},{"d":9,"v":485},{"d":10,"v":486},{"d":11,"v":495},{"d":12,"v":430},{"d":13,"v":380},{"d":14,"v":451},{"d":15,"v":440},{"d":16,"v":426},{"d":17,"v":429},{"d":18,"v":445},{"d":19,"v":400},{"d":20,"v":363},{"d":21,"v":451},{"d":22,"v":440},{"d":23,"v":435},{"d":24,"v":440},{"d":25,"v":465},{"d":26,"v":410},{"d":27,"v":366},{"d":28,"v":429},{"d":29,"v":420},{"d":30,"v":418},{"d":31,"v":422},{"d":32,"v":435},{"d":33,"v":400},{"d":34,"v":363},{"d":35,"v":440},{"d":36,"v":443},{"d":37,"v":438},{"d":38,"v":429},{"d":39,"v":456},{"d":40,"v":410},{"d":41,"v":380},{"d":42,"v":445},{"d":43,"v":451},{"d":44,"v":448},{"d":45,"v":440},{"d":46,"v":456},{"d":47,"v":407},{"d":48,"v":358},{"d":49,"v":440},{"d":50,"v":435},{"d":51,"v":429},{"d":52,"v":440},{"d":53,"v":465},{"d":54,"v":407},{"d":55,"v":363},{"d":56,"v":437},{"d":57,"v":435},{"d":58,"v":429},{"d":59,"v":443},{"d":60,"v":497},{"d":61,"v":405},{"d":62,"v":389},{"d":63,"v":410},{"d":64,"v":396},{"d":65,"v":396},{"d":66,"v":401},{"d":67,"v":445},{"d":68,"v":416},{"d":69,"v":374}],
    "hz25": [{"d":-6,"v":445},{"d":-5,"v":452},{"d":-4,"v":465},{"d":-3,"v":485},{"d":-2,"v":420},{"d":-1,"v":347},{"d":0,"v":457},{"d":1,"v":462},{"d":2,"v":466},{"d":3,"v":472},{"d":4,"v":489},{"d":5,"v":410},{"d":6,"v":319},{"d":7,"v":450},{"d":8,"v":456},{"d":9,"v":462},{"d":10,"v":472},{"d":11,"v":489},{"d":12,"v":420},{"d":13,"v":375},{"d":14,"v":468},{"d":15,"v":465},{"d":16,"v":462},{"d":17,"v":465},{"d":18,"v":473},{"d":19,"v":420},{"d":20,"v":378},{"d":21,"v":456},{"d":22,"v":455},{"d":23,"v":455},{"d":24,"v":458},{"d":25,"v":468},{"d":26,"v":420},{"d":27,"v":380},{"d":28,"v":451},{"d":29,"v":454},{"d":30,"v":451},{"d":31,"v":462},{"d":32,"v":482},{"d":33,"v":420},{"d":34,"v":336},{"d":35,"v":451},{"d":36,"v":451},{"d":37,"v":451},{"d":38,"v":451},{"d":39,"v":476},{"d":40,"v":410},{"d":41,"v":319},{"d":42,"v":451},{"d":43,"v":456},{"d":44,"v":462},{"d":45,"v":462},{"d":46,"v":478},{"d":47,"v":418},{"d":48,"v":352},{"d":49,"v":451},{"d":50,"v":451},{"d":51,"v":445},{"d":52,"v":451},{"d":53,"v":462},{"d":54,"v":396},{"d":55,"v":325},{"d":56,"v":429},{"d":57,"v":429},{"d":58,"v":423},{"d":59,"v":423},{"d":60,"v":473},{"d":61,"v":331},{"d":62,"v":298},{"d":63,"v":391},{"d":64,"v":396},{"d":65,"v":399},{"d":66,"v":407},{"d":67,"v":435},{"d":68,"v":303},{"d":69,"v":300}],
    "cs25": [{"d":-6,"v":270},{"d":-5,"v":285},{"d":-4,"v":290},{"d":-3,"v":300},{"d":-2,"v":275},{"d":-1,"v":255},{"d":0,"v":290},{"d":1,"v":290},{"d":2,"v":293},{"d":3,"v":295},{"d":4,"v":305},{"d":5,"v":280},{"d":6,"v":262},{"d":7,"v":292},{"d":8,"v":295},{"d":9,"v":298},{"d":10,"v":300},{"d":11,"v":315},{"d":12,"v":285},{"d":13,"v":265},{"d":14,"v":298},{"d":15,"v":296},{"d":16,"v":298},{"d":17,"v":300},{"d":18,"v":312},{"d":19,"v":285},{"d":20,"v":262},{"d":21,"v":298},{"d":22,"v":296},{"d":23,"v":300},{"d":24,"v":302},{"d":25,"v":305},{"d":26,"v":280},{"d":27,"v":262},{"d":28,"v":295},{"d":29,"v":298},{"d":30,"v":300},{"d":31,"v":298},{"d":32,"v":310},{"d":33,"v":285},{"d":34,"v":265},{"d":35,"v":296},{"d":36,"v":295},{"d":37,"v":298},{"d":38,"v":300},{"d":39,"v":312},{"d":40,"v":285},{"d":41,"v":265},{"d":42,"v":296},{"d":43,"v":294},{"d":44,"v":296},{"d":45,"v":298},{"d":46,"v":305},{"d":47,"v":282},{"d":48,"v":268},{"d":49,"v":295},{"d":50,"v":296},{"d":51,"v":294},{"d":52,"v":295},{"d":53,"v":300},{"d":54,"v":285},{"d":55,"v":260},{"d":56,"v":276},{"d":57,"v":273},{"d":58,"v":273},{"d":59,"v":273},{"d":60,"v":306},{"d":61,"v":237},{"d":62,"v":229},{"d":63,"v":243},{"d":64,"v":243},{"d":65,"v":235},{"d":66,"v":250},{"d":67,"v":280},{"d":68,"v":243},{"d":69,"v":248}]
  },
  "columns": 1,
  "align": "none",
  "spacing": 22,
  "resolve": {
    "scale": {"color": "independent", "stroke": "independent", "fill": "independent"},
    "legend": {"color": "independent", "stroke": "independent", "fill": "independent"}
  },
  "concat": [
    {
      "spacing": 0,
      "hconcat": [
        {
          "width": 260,
          "height": 168,
          "data": {"values": [
            {"k": "h", "t": "对比项目"},
            {"k": "r1", "t": "2026暑运合计（57天）"},
            {"k": "r2", "t": "2026暑运日均（57天）"},
            {"k": "r3", "t": "2025暑运日均（57天）"},
            {"k": "r4", "t": "2026暑运对比2025暑运增量（57天）"},
            {"k": "r5", "t": "2026暑运对比2025暑运增幅（57天）"}
          ]},
          "encoding": {"y": {"field": "k", "type": "nominal", "sort": ["h", "r1", "r2", "r3", "r4", "r5"], "axis": null, "scale": {"padding": 0}}},
          "layer": [
            {"mark": {"type": "rect", "stroke": "#333333", "strokeWidth": 1},
             "encoding": {
               "x": {"datum": 0, "type": "quantitative", "axis": null, "scale": {"domain": [0, 1], "range": [-40, 260]}},
               "x2": {"datum": 1},
               "fill": {"field": "k", "type": "nominal", "legend": null,
               "scale": {"domain": ["h", "r1", "r2", "r3", "r4", "r5"], "range": ["#FFF2CC", "#BDD7EE", "#B4D89A", "#D9D9D9", "#F1DEF3", "#F8CBAD"]}}}},
            {"mark": {"type": "text", "fontSize": 15, "font": "Noto Sans CJK SC"},
             "encoding": {"x": {"datum": 0.5, "type": "quantitative"}, "text": {"field": "t"},
               "color": {"condition": {"test": "datum.k === 'r3' || datum.k === 'r4'", "value": "#808080"}, "value": "#1a1a1a"}}}
          ]
        },
        {
          "width": 848,
          "height": 168,
          "data": {"values": [
            {"c": "北京", "k": "h", "t": "北京"}, {"c": "上海", "k": "h", "t": "上海"}, {"c": "广州", "k": "h", "t": "广州"}, {"c": "深圳", "k": "h", "t": "深圳"}, {"c": "成都", "k": "h", "t": "成都"}, {"c": "南京", "k": "h", "t": "南京"}, {"c": "武汉", "k": "h", "t": "武汉"}, {"c": "重庆", "k": "h", "t": "重庆"}, {"c": "西安", "k": "h", "t": "西安"}, {"c": "杭州", "k": "h", "t": "杭州"}, {"c": "长沙", "k": "h", "t": "长沙"},
            {"c": "北京", "k": "r1", "t": "57546.04"}, {"c": "上海", "k": "r1", "t": "58841.00"}, {"c": "广州", "k": "r1", "t": "55717.87"}, {"c": "深圳", "k": "r1", "t": "57575.90"}, {"c": "成都", "k": "r1", "t": "36659.72"}, {"c": "南京", "k": "r1", "t": "18947.33"}, {"c": "武汉", "k": "r1", "t": "21064.14"}, {"c": "重庆", "k": "r1", "t": "21492.60"}, {"c": "西安", "k": "r1", "t": "23557.70"}, {"c": "杭州", "k": "r1", "t": "--"}, {"c": "长沙", "k": "r1", "t": "16485.43"},
            {"c": "北京", "k": "r2", "t": "1009.58"}, {"c": "上海", "k": "r2", "t": "1032.30"}, {"c": "广州", "k": "r2", "t": "977.51"}, {"c": "深圳", "k": "r2", "t": "1010.10"}, {"c": "成都", "k": "r2", "t": "643.15"}, {"c": "南京", "k": "r2", "t": "332.41"}, {"c": "武汉", "k": "r2", "t": "369.55"}, {"c": "重庆", "k": "r2", "t": "377.06"}, {"c": "西安", "k": "r2", "t": "413.29"}, {"c": "杭州", "k": "r2", "t": "--"}, {"c": "长沙", "k": "r2", "t": "289.22"},
            {"c": "北京", "k": "r3", "t": "1033.42"}, {"c": "上海", "k": "r3", "t": "1058.21"}, {"c": "广州", "k": "r3", "t": "972.29"}, {"c": "深圳", "k": "r3", "t": "967.83"}, {"c": "成都", "k": "r3", "t": "611.28"}, {"c": "南京", "k": "r3", "t": "312.66"}, {"c": "武汉", "k": "r3", "t": "365.12"}, {"c": "重庆", "k": "r3", "t": "394.69"}, {"c": "西安", "k": "r3", "t": "425.69"}, {"c": "杭州", "k": "r3", "t": "--"}, {"c": "长沙", "k": "r3", "t": "291.45"},
            {"c": "北京", "k": "r4", "t": "-23.84"}, {"c": "上海", "k": "r4", "t": "-25.91"}, {"c": "广州", "k": "r4", "t": "5.22"}, {"c": "深圳", "k": "r4", "t": "42.27"}, {"c": "成都", "k": "r4", "t": "31.87"}, {"c": "南京", "k": "r4", "t": "19.75"}, {"c": "武汉", "k": "r4", "t": "4.43"}, {"c": "重庆", "k": "r4", "t": "-17.63"}, {"c": "西安", "k": "r4", "t": "-12.40"}, {"c": "杭州", "k": "r4", "t": "-"}, {"c": "长沙", "k": "r4", "t": "-2.24"},
            {"c": "北京", "k": "r5", "t": "-2.31%"}, {"c": "上海", "k": "r5", "t": "-2.45%"}, {"c": "广州", "k": "r5", "t": "0.54%"}, {"c": "深圳", "k": "r5", "t": "4.37%"}, {"c": "成都", "k": "r5", "t": "5.21%"}, {"c": "南京", "k": "r5", "t": "6.32%"}, {"c": "武汉", "k": "r5", "t": "1.21%"}, {"c": "重庆", "k": "r5", "t": "-4.47%"}, {"c": "西安", "k": "r5", "t": "-2.91%"}, {"c": "杭州", "k": "r5", "t": "-"}, {"c": "长沙", "k": "r5", "t": "-0.77%"}
          ]},
          "encoding": {
            "x": {"field": "c", "type": "nominal", "sort": ["北京", "上海", "广州", "深圳", "成都", "南京", "武汉", "重庆", "西安", "杭州", "长沙"], "axis": null, "scale": {"padding": 0}},
            "y": {"field": "k", "type": "nominal", "sort": ["h", "r1", "r2", "r3", "r4", "r5"], "axis": null, "scale": {"padding": 0}}
          },
          "layer": [
            {"mark": {"type": "rect", "stroke": "#333333", "strokeWidth": 1},
             "encoding": {"fill": {"field": "k", "type": "nominal", "legend": null,
               "scale": {"domain": ["h", "r1", "r2", "r3", "r4", "r5"], "range": ["#FFF2CC", "#BDD7EE", "#B4D89A", "#D9D9D9", "#F1DEF3", "#F8CBAD"]}}}},
            {"transform": [{"filter": "datum.k === 'h'"}],
             "mark": {"type": "text", "fontSize": 15, "font": "Noto Sans CJK SC", "color": "#1a1a1a"},
             "encoding": {"text": {"field": "t"}}},
            {"transform": [{"filter": "datum.k !== 'h'"}],
             "mark": {"type": "text", "fontSize": 14, "font": "Liberation Mono"},
             "encoding": {"text": {"field": "t"},
               "color": {"condition": [
                 {"test": "datum.c === '杭州'", "value": "#9a9a9a"},
                 {"test": "datum.k === 'r3'", "value": "#808080"},
                 {"test": "(datum.k === 'r4' || datum.k === 'r5') && indexof(datum.t, '-') === 0", "value": "#1F9A55"},
                 {"test": "datum.k === 'r4' || datum.k === 'r5'", "value": "#E01B1B"}
               ], "value": "#1a1a1a"}}}
          ]
        },
        {
          "spacing": 0,
          "vconcat": [
            {
              "width": 108,
              "height": 28,
              "data": {"values": [{"t": "备注"}]},
              "layer": [
                {"mark": {"type": "rect", "fill": "#FFF2CC", "stroke": "#333333", "strokeWidth": 1}},
                {"mark": {"type": "text", "fontSize": 15, "font": "Noto Sans CJK SC", "color": "#1a1a1a"}, "encoding": {"text": {"field": "t"}}}
              ]
            },
            {
              "width": 108,
              "height": 140,
              "data": {"values": [{"t": "2026.7.1(周\n三)对应\n2025.7.1(周\n二)起算"}]},
              "layer": [
                {"mark": {"type": "rect", "fill": "#FFF2CC", "stroke": "#333333", "strokeWidth": 1}},
                {"mark": {"type": "text", "fontSize": 15, "font": "Noto Sans CJK SC", "color": "#1a1a1a", "lineBreak": "\n", "lineHeight": 19}, "encoding": {"text": {"field": "t"}}}
              ]
            }
          ]
        }
      ]
    },
    {
      "width": 1198,
      "height": 790,
      "title": {"text": "2026年（虚线2025年）暑期前后主要城市地铁客流走势图（万人次）", "fontSize": 25, "fontWeight": "bold", "color": "#C00000", "offset": 6, "anchor": "middle", "font": "Noto Sans CJK SC"},
      "encoding": {
        "x": {"field": "d", "type": "quantitative", "scale": {"domain": [-6.25, 69], "nice": false, "zero": false},
          "axis": {"values": [-6,-5,-4,-3,-2,-1,0,1,2,3,4,5,6,7,8,9,10,11,12,13,14,15,16,17,18,19,20,21,22,23,24,25,26,27,28,29,30,31,32,33,34,35,36,37,38,39,40,41,42,43,44,45,46,47,48,49,50,51,52,53,54,55,56,57,58,59,60,61,62,63,64,65,66,67,68,69],
            "labelExpr": "datum.value >= 1 && datum.value <= 62 ? datum.label : ''",
            "title": null, "grid": false, "domainColor": "#8c8c8c", "tickColor": "#8c8c8c", "tickSize": 5,
            "labelFont": "Liberation Sans", "labelFontSize": 11.5, "labelColor": "#111111", "labelAngle": 0, "labelPadding": 7, "labelOverlap": false, "labelFlush": false, "labelBound": false}},
        "y": {"field": "v", "type": "quantitative", "scale": {"domain": [0, 1300], "nice": false},
          "axis": {"values": [0,100,200,300,400,500,600,700,800,900,1000,1100,1200,1300], "format": "d", "title": null, "grid": true, "gridColor": "#8c8c8c", "gridWidth": 1,
            "domainColor": "#8c8c8c", "tickColor": "#8c8c8c", "tickSize": 4, "labelFont": "Liberation Sans", "labelFontSize": 11.5, "labelColor": "#222222", "labelPadding": 3, "minExtent": 40}}
      },
      "layer": [
        {"data": {"name": "bj26"}, "mark": {"type": "line", "strokeWidth": 3},
         "encoding": {"color": {"datum": "北京", "type": "nominal",
           "scale": {"domain": ["北京", "上海", "广州", "深圳", "成都", "南京", "武汉", "重庆", "西安", "杭州", "长沙"],
                     "range": ["#1F6DB4", "#E3151A", "#FFC000", "#92D050", "#1AA7E0", "#C00000", "#BF9000", "#22B38A", "#7030A0", "#F39CF0", "#B8D0E8"]},
           "legend": {"orient": "none", "legendX": 130, "legendY": -58, "direction": "horizontal", "columns": 11, "title": null,
             "symbolType": "stroke", "symbolSize": 784, "symbolStrokeWidth": 3, "labelFontSize": 13, "labelOffset": 2, "columnPadding": 22,
             "labelFont": "Noto Sans CJK SC", "labelColor": "#222222"}}}},
        {"data": {"name": "sh26"}, "mark": {"type": "line", "strokeWidth": 3}, "encoding": {"color": {"datum": "上海", "type": "nominal"}}},
        {"data": {"name": "gz26"}, "mark": {"type": "line", "strokeWidth": 3}, "encoding": {"color": {"datum": "广州", "type": "nominal"}}},
        {"data": {"name": "sz26"}, "mark": {"type": "line", "strokeWidth": 3}, "encoding": {"color": {"datum": "深圳", "type": "nominal"}}},
        {"data": {"name": "cd26"}, "mark": {"type": "line", "strokeWidth": 3}, "encoding": {"color": {"datum": "成都", "type": "nominal"}}},
        {"data": {"name": "nj26"}, "mark": {"type": "line", "strokeWidth": 3}, "encoding": {"color": {"datum": "南京", "type": "nominal"}}},
        {"data": {"name": "wh26"}, "mark": {"type": "line", "strokeWidth": 3}, "encoding": {"color": {"datum": "武汉", "type": "nominal"}}},
        {"data": {"name": "cq26"}, "mark": {"type": "line", "strokeWidth": 3}, "encoding": {"color": {"datum": "重庆", "type": "nominal"}}},
        {"data": {"name": "xa26"}, "mark": {"type": "line", "strokeWidth": 3}, "encoding": {"color": {"datum": "西安", "type": "nominal"}}},
        {"data": {"name": "hz26"}, "mark": {"type": "line", "strokeWidth": 3}, "encoding": {"color": {"datum": "杭州", "type": "nominal"}}},
        {"data": {"name": "cs26"}, "mark": {"type": "line", "strokeWidth": 3}, "encoding": {"color": {"datum": "长沙", "type": "nominal"}}},
        {"data": {"name": "bj25"}, "mark": {"type": "line", "strokeWidth": 1.6, "strokeDash": [2, 2]},
         "encoding": {"stroke": {"datum": "北京2025", "type": "nominal",
           "scale": {"domain": ["北京2025", "上海2025", "广州2025", "深圳2025", "成都2025", "南京2025", "武汉2025", "重庆2025", "西安2025", "杭州2025", "长沙2025"],
                     "range": ["#1F6DB4", "#C8141A", "#FFC000", "#92D050", "#1AA7E0", "#A00000", "#BF9000", "#22B38A", "#7030A0", "#F39CF0", "#B8D0E8"]},
           "legend": {"orient": "none", "legendX": 130, "legendY": -35, "direction": "horizontal", "columns": 11, "title": null,
             "symbolType": "stroke", "symbolSize": 676, "symbolStrokeWidth": 1.6, "symbolDash": [2, 2], "labelExpr": "''", "labelOffset": 2, "columnPadding": 53}}}},
        {"data": {"name": "sh25"}, "mark": {"type": "line", "strokeWidth": 1.6, "strokeDash": [2, 2]}, "encoding": {"stroke": {"datum": "上海2025", "type": "nominal"}}},
        {"data": {"name": "gz25"}, "mark": {"type": "line", "strokeWidth": 1.6, "strokeDash": [2, 2]}, "encoding": {"stroke": {"datum": "广州2025", "type": "nominal"}}},
        {"data": {"name": "sz25"}, "mark": {"type": "line", "strokeWidth": 1.6, "strokeDash": [2, 2]}, "encoding": {"stroke": {"datum": "深圳2025", "type": "nominal"}}},
        {"data": {"name": "cd25"}, "mark": {"type": "line", "strokeWidth": 1.6, "strokeDash": [2, 2]}, "encoding": {"stroke": {"datum": "成都2025", "type": "nominal"}}},
        {"data": {"name": "nj25"}, "mark": {"type": "line", "strokeWidth": 1.6, "strokeDash": [2, 2]}, "encoding": {"stroke": {"datum": "南京2025", "type": "nominal"}}},
        {"data": {"name": "wh25"}, "mark": {"type": "line", "strokeWidth": 1.6, "strokeDash": [2, 2]}, "encoding": {"stroke": {"datum": "武汉2025", "type": "nominal"}}},
        {"data": {"name": "cq25"}, "mark": {"type": "line", "strokeWidth": 1.6, "strokeDash": [2, 2]}, "encoding": {"stroke": {"datum": "重庆2025", "type": "nominal"}}},
        {"data": {"name": "xa25"}, "mark": {"type": "line", "strokeWidth": 1.6, "strokeDash": [2, 2]}, "encoding": {"stroke": {"datum": "西安2025", "type": "nominal"}}},
        {"data": {"name": "hz25"}, "mark": {"type": "line", "strokeWidth": 1.6, "strokeDash": [2, 2]}, "encoding": {"stroke": {"datum": "杭州2025", "type": "nominal"}}},
        {"data": {"name": "cs25"}, "mark": {"type": "line", "strokeWidth": 1.6, "strokeDash": [2, 2]}, "encoding": {"stroke": {"datum": "长沙2025", "type": "nominal"}}}
      ]
    }
  ],
  "config": {
    "view": {"stroke": null},
    "font": "Noto Sans CJK SC"
  }
}
